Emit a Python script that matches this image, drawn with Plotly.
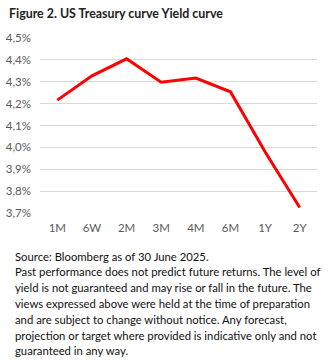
import plotly.graph_objects as go

tenors = ["1M", "6W", "2M", "3M", "4M", "6M", "1Y", "2Y"]
yields = [4.216, 4.327, 4.405, 4.298, 4.317, 4.254, 3.98, 3.725]
y_ticks = [3.7, 3.8, 3.9, 4.0, 4.1, 4.2, 4.3, 4.4, 4.5]
y_tick_labels = ["3,7%", "3,8%", "3,9%", "4,0%", "4,1%", "4,2%", "4,3%", "4,4%", "4,5%"]

title = "Figure 2. US Treasury curve Yield curve"
footer_lines = [
    "Source: Bloomberg as of 30 June 2025.",
    "Past performance does not predict future returns. The level of",
    "yield is not guaranteed and may rise or fall in the future. The",
    "views expressed above were held at the time of preparation",
    "and are subject to change without notice. Any forecast,",
    "projection or target where provided is indicative only and not",
    "guaranteed in any way.",
]

font_family = "Lato, Liberation Sans, sans-serif"

W, H = 336, 360
ML, MR, MT, MB = 40, 19, 38, 147
plot_w = W - ML - MR
plot_bottom = H - MB

fig = go.Figure()
fig.add_trace(go.Scatter(
    x=tenors, y=yields, mode="lines",
    line=dict(color="#ff0000", width=3),
    hoverinfo="skip",
))

annotations = [
    dict(text="<b>" + title + "</b>", xref="paper", yref="paper",
         x=-33/plot_w, y=1, yshift=MT-13, xanchor="left", yanchor="middle",
         showarrow=False, font=dict(size=12.4, color="#222222", family=font_family)),
]
for i, line in enumerate(footer_lines):
    ypix = 256 + i * 15.8
    annotations.append(dict(
        text=line, xref="paper", yref="paper", align="left",
        x=-27/plot_w, y=0, yshift=-(ypix - plot_bottom), xanchor="left", yanchor="middle",
        showarrow=False, font=dict(size=11.3, color="#111111", family=font_family)))

fig.update_layout(
    width=W, height=H,
    margin=dict(l=ML, r=MR, t=MT, b=MB),
    paper_bgcolor="white", plot_bgcolor="white",
    showlegend=False,
    font=dict(family=font_family, size=11.5, color="#595959"),
    xaxis=dict(
        type="category", range=[-0.5, 7.5], automargin=False,
        showgrid=False, zeroline=False, showline=False,
        ticks="", ticklabelstandoff=6, tickfont=dict(size=11.5, color="#595959"),
    ),
    yaxis=dict(
        range=[3.7, 4.5], tickmode="array", tickvals=y_ticks, ticktext=y_tick_labels,
        automargin=False,
        showgrid=True, gridcolor="#d9d9d9", gridwidth=1,
        zeroline=False, showline=False, ticks="", ticklabelstandoff=8,
        tickfont=dict(size=11.5, color="#595959"),
    ),
    annotations=annotations,
)

fig.write_html("out.html")
